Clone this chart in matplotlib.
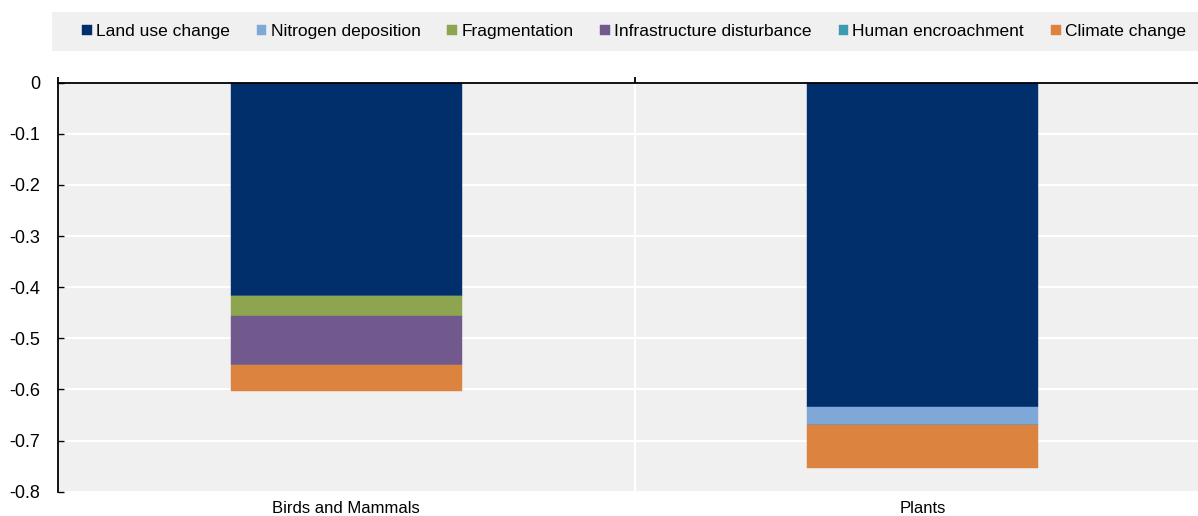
import matplotlib
matplotlib.use("Agg")
import matplotlib.pyplot as plt
from matplotlib.patches import Rectangle
import numpy as np

plt.rcParams['font.family'] = ['Liberation Sans', 'DejaVu Sans']
plt.rcParams['axes.unicode_minus'] = False

# Data
categories = ["Birds and Mammals", "Plants"]
drivers = ["Land use change", "Nitrogen deposition", "Fragmentation",
           "Infrastructure disturbance", "Human encroachment", "Climate change"]
land_use = [-0.417, -0.634]
nitrogen = [0.0, -0.035]
fragmentation = [-0.039, 0.0]
infrastructure = [-0.096, 0.0]
human_encroachment = [0.0, 0.0]
climate = [-0.052, -0.084]
y_ticks = [0, -0.1, -0.2, -0.3, -0.4, -0.5, -0.6, -0.7, -0.8]
y_tick_labels = ["0", "-0.1", "-0.2", "-0.3", "-0.4", "-0.5", "-0.6", "-0.7", "-0.8"]

series = [land_use, nitrogen, fragmentation, infrastructure, human_encroachment, climate]
colors = ["#002F6C", "#7FA8D9", "#8CA54E", "#72598D", "#3C9AB2", "#DC843F"]

W, H = 1198, 516
fig = plt.figure(figsize=(W / 100, H / 100), dpi=100)
ax = fig.add_axes([58 / W, 1 - 491.7 / H, (1211 - 58) / W, (491.7 - 82.7) / H])
ax.set_facecolor("#F0F0F0")

x = np.arange(len(categories))
bottom = np.zeros(len(categories))
handles = []
for vals, col, name in zip(series, colors, drivers):
    vals = np.array(vals)
    h = ax.bar(x, vals, width=0.4, bottom=bottom, color=col, label=name,
               edgecolor=col, linewidth=0.3, zorder=3)
    handles.append(h)
    bottom = bottom + vals

ax.set_xlim(-0.5, 1.5)
ax.set_ylim(-0.8, 0)
ax.set_yticks(y_ticks)
ax.set_yticklabels(y_tick_labels)
ax.set_xticks(x)
ax.set_xticklabels(categories)
ax.set_xticks([-0.5, 0.5, 1.5], minor=True)

# Grid: white horizontal lines and category separator
ax.set_axisbelow(True)
ax.yaxis.grid(True, color="white", linewidth=1.5, zorder=0)
ax.axvline(0.5, color="white", linewidth=1.5, zorder=0)

for side in ["right", "bottom"]:
    ax.spines[side].set_visible(False)
for side in ["left", "top"]:
    ax.spines[side].set_color("black")
    ax.spines[side].set_linewidth(1.3)
    ax.spines[side].set_zorder(4)

ax.tick_params(axis="y", direction="in", length=4, width=1, pad=13,
               labelsize=13, colors="black")
ax.tick_params(axis="x", which="major", bottom=True, top=False, length=0,
               labelsize=12, pad=7)
ax.tick_params(axis="x", which="minor", bottom=False, top=True,
               direction="out", length=4.5, width=1.3)

# Legend band across the top
fig.patches.append(Rectangle((52 / W, 1 - 51 / H), (1211 - 52) / W, 39 / H,
                             transform=fig.transFigure, facecolor="#F0F0F0",
                             edgecolor="none", zorder=0))
leg = fig.legend(handles=handles, labels=drivers, loc="center left",
                 bbox_to_anchor=(82 / W, 1 - 31.5 / H), ncol=6,
                 frameon=False, fontsize=12.5,
                 handlelength=0.55, handleheight=0.55, handletextpad=0.25,
                 columnspacing=1.55, borderpad=0, borderaxespad=0)

fig.savefig("out.png", dpi=100)
